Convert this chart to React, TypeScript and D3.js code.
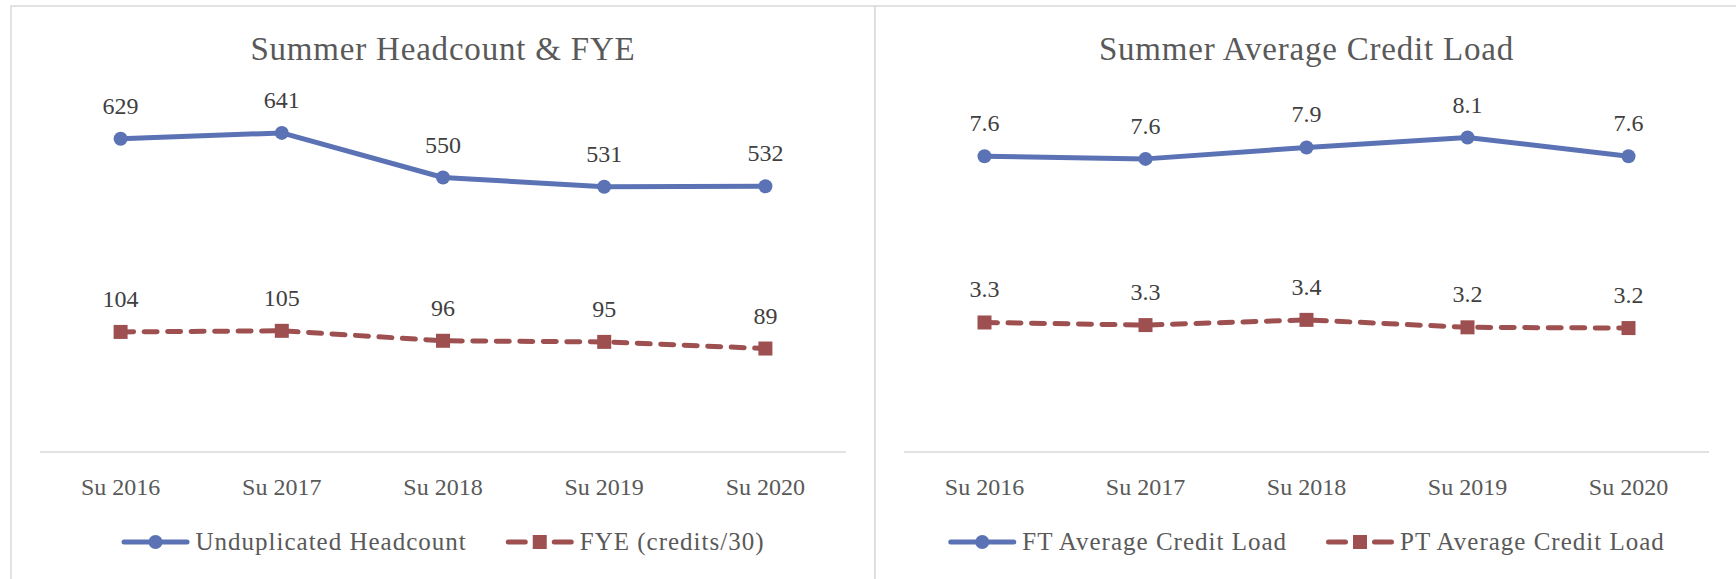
import React, { useEffect, useRef } from 'react';
import * as d3 from 'd3';

const categories = ['Su 2016', 'Su 2017', 'Su 2018', 'Su 2019', 'Su 2020'];

// left panel
const headcount = [629, 641, 550, 531, 532];
const fye = [104, 105, 96, 95, 89];

// right panel
const ftLoad = [7.63, 7.56, 7.86, 8.12, 7.63];
const ptLoad = [3.34, 3.27, 3.41, 3.21, 3.19];

const BLUE = '#5B73B5';
const RED = '#9E5050';
const FONT = '"Liberation Serif", "Times New Roman", serif';

interface Series {
  name: string;
  values: number[];
  domain: [number, number];
  color: string;
  dashed: boolean;
  marker: 'circle' | 'square';
  fmt: (v: number) => string;
}

interface Panel {
  title: string;
  frame: [number, number, number, number];
  x0: number;
  x1: number;
  series: Series[];
}

const panels: Panel[] = [
  {
    title: 'Summer Headcount & FYE',
    frame: [11, 6, 875, 620],
    x0: 40,
    x1: 846,
    series: [
      { name: 'Unduplicated Headcount', values: headcount, domain: [0, 700], color: BLUE, dashed: false, marker: 'circle', fmt: d3.format('d') },
      { name: 'FYE (credits/30)', values: fye, domain: [0, 310], color: RED, dashed: true, marker: 'square', fmt: d3.format('d') },
    ],
  },
  {
    title: 'Summer Average Credit Load',
    frame: [875, 6, 1760, 620],
    x0: 904,
    x1: 1709,
    series: [
      { name: 'FT Average Credit Load', values: ftLoad, domain: [0, 9], color: BLUE, dashed: false, marker: 'circle', fmt: d3.format('.1f') },
      { name: 'PT Average Credit Load', values: ptLoad, domain: [0, 9.2], color: RED, dashed: true, marker: 'square', fmt: d3.format('.1f') },
    ],
  },
];

const PLOT_BOTTOM = 447;
const PLOT_TOP = 104;
const AXIS_Y = 452;

function drawMarker(g: d3.Selection<SVGGElement, unknown, null, undefined>, kind: string, x: number, y: number, color: string) {
  if (kind === 'circle') {
    g.append('circle').attr('cx', x).attr('cy', y).attr('r', 7).attr('fill', color);
  } else {
    g.append('rect').attr('x', x - 7).attr('y', y - 7).attr('width', 14).attr('height', 14).attr('fill', color);
  }
}

const App: React.FC = () => {
  const svgRef = useRef<SVGSVGElement>(null);

  useEffect(() => {
    if (!svgRef.current) return;
    const svg = d3.select(svgRef.current);
    svg.selectAll('*').remove();

    panels.forEach(p => {
      const root = svg.append('g');
      const [fx0, fy0, fx1, fy1] = p.frame;

      // chart frame
      root.append('rect')
        .attr('x', fx0).attr('y', fy0)
        .attr('width', fx1 - fx0).attr('height', fy1 - fy0)
        .attr('fill', '#fff')
        .attr('stroke', '#d9d9d9')
        .attr('stroke-width', 1.5);

      const cx = (p.x0 + p.x1) / 2;

      root.append('text')
        .attr('x', cx).attr('y', 60)
        .attr('text-anchor', 'middle')
        .attr('font-family', FONT)
        .attr('font-size', 33)
        .attr('letter-spacing', 0.8)
        .attr('fill', '#595959')
        .text(p.title);

      const xScale = d3.scalePoint<string>()
        .domain(categories)
        .range([p.x0, p.x1])
        .padding(0.5);

      // category axis
      root.append('line')
        .attr('x1', p.x0).attr('x2', p.x1)
        .attr('y1', AXIS_Y).attr('y2', AXIS_Y)
        .attr('stroke', '#d9d9d9')
        .attr('stroke-width', 1.5);

      root.append('g')
        .selectAll('text')
        .data(categories)
        .enter()
        .append('text')
        .attr('x', d => xScale(d) as number)
        .attr('y', 495)
        .attr('text-anchor', 'middle')
        .attr('font-family', FONT)
        .attr('font-size', 24)
        .attr('fill', '#595959')
        .text(d => d);

      p.series.forEach(s => {
        const yScale = d3.scaleLinear().domain(s.domain).range([PLOT_BOTTOM, PLOT_TOP]);
        const pts = s.values.map((v, i) => [xScale(categories[i]) as number, yScale(v)] as [number, number]);

        const line = d3.line<[number, number]>().x(d => d[0]).y(d => d[1]);
        root.append('path')
          .datum(pts)
          .attr('fill', 'none')
          .attr('stroke', s.color)
          .attr('stroke-width', 5)
          .attr('stroke-linecap', 'round')
          .attr('stroke-linejoin', 'round')
          .attr('stroke-dasharray', s.dashed ? '13 10.5' : null)
          .attr('d', line);

        const mg = root.append('g');
        pts.forEach(([x, y]) => drawMarker(mg, s.marker, x, y, s.color));

        root.append('g')
          .selectAll('text')
          .data(s.values)
          .enter()
          .append('text')
          .attr('x', (_, i) => pts[i][0])
          .attr('y', (_, i) => pts[i][1] - 25)
          .attr('text-anchor', 'middle')
          .attr('font-family', FONT)
          .attr('font-size', 24)
          .attr('fill', '#404040')
          .text(d => s.fmt(d));
      });

      // legend
      const lg = root.append('g');
      const symW = 68;
      const gapText = 6;
      const gapItem = 39;
      const items = p.series.map(s => {
        const ig = lg.append('g');
        ig.append('line')
          .attr('x1', 2.5).attr('x2', symW - 2.5)
          .attr('y1', 542).attr('y2', 542)
          .attr('stroke', s.color)
          .attr('stroke-width', 5)
          .attr('stroke-linecap', 'round')
          .attr('stroke-dasharray', s.dashed ? '17 29' : null);
        drawMarker(ig, s.marker, symW / 2, 542, s.color);
        const t = ig.append('text')
          .attr('x', symW + gapText)
          .attr('y', 550)
          .attr('font-family', FONT)
          .attr('font-size', 25)
          .attr('letter-spacing', 1)
          .attr('fill', '#595959')
          .text(s.name);
        const w = symW + gapText + (t.node() as SVGTextElement).getComputedTextLength();
        return { ig, w };
      });
      const total = d3.sum(items, d => d.w) + gapItem * (items.length - 1);
      let x = cx - total / 2;
      items.forEach(it => {
        it.ig.attr('transform', `translate(${x},0)`);
        x += it.w + gapItem;
      });
    });
  }, []);

  return (
    <svg
      ref={svgRef}
      width={1736}
      height={579}
      style={{ position: 'absolute', left: 0, top: 0, background: '#fff' }}
    />
  );
};

export default App;
